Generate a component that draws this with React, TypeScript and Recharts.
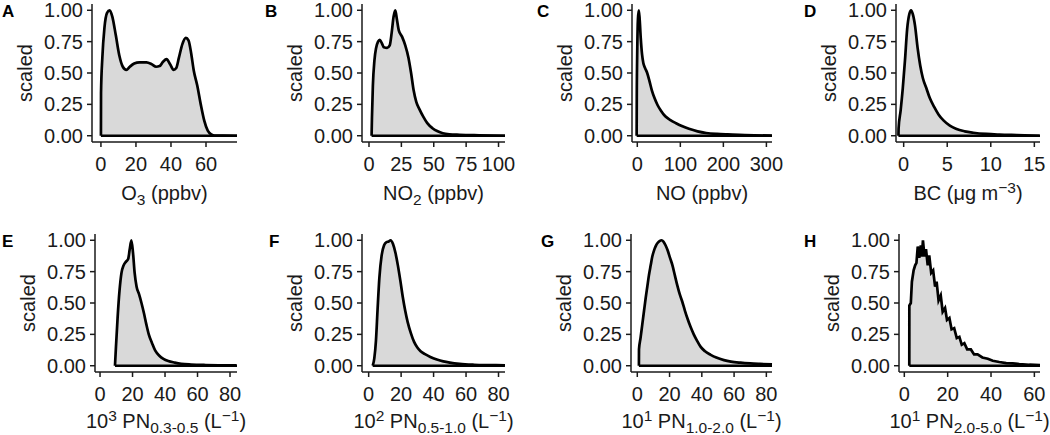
import { AreaChart, Area, XAxis, YAxis, ReferenceLine } from "recharts";

const FONT = '"Liberation Sans", Arial, Helvetica, sans-serif';
const INK = "#1a1a1a";
const FILL = "#d9d9d9";

// Scaled density curves, as [x, scaled] pairs
const o3: [number, number][] = [
  [0, 0], [0.05, 0.34], [0.8, 0.62], [2, 0.86], [3.5, 0.98], [5, 1.0], [6.5, 0.95],
  [8.5, 0.8], [10.5, 0.64], [12.5, 0.55], [14.5, 0.525], [16.5, 0.55], [19, 0.575],
  [22, 0.585], [26, 0.585], [29, 0.57], [31.5, 0.55], [33.5, 0.555], [35.5, 0.59],
  [37.5, 0.61], [39.5, 0.57], [41.5, 0.525], [43, 0.54], [44.5, 0.62], [46.5, 0.73],
  [48.5, 0.78], [50, 0.76], [51.5, 0.66], [53, 0.52], [55, 0.4], [57, 0.25],
  [59, 0.12], [61, 0.04], [63, 0.01], [65, 0.001], [77.7, 0],
];

const no2: [number, number][] = [
  [2, 0], [2.3, 0.15], [3, 0.4], [4.2, 0.6], [5.5, 0.7], [7, 0.75], [8.3, 0.765],
  [9.8, 0.74], [11.5, 0.705], [14, 0.7], [16, 0.72], [17.5, 0.82], [19, 0.95],
  [20.3, 1.0], [21.5, 0.93], [23, 0.84], [25.5, 0.79], [28, 0.72], [30.5, 0.62],
  [32.5, 0.5], [34.5, 0.36], [36.5, 0.27], [39, 0.21], [42, 0.15], [45, 0.1],
  [49, 0.06], [53, 0.035], [57, 0.02], [62, 0.012], [70, 0.008], [85, 0.004], [105, 0],
];

const no: [number, number][] = [
  [-1.5, 0], [-1.2, 0.3], [0, 0.7], [1.5, 0.93], [3.5, 1.0], [5.5, 0.93], [8, 0.78],
  [11, 0.65], [14, 0.58], [18, 0.54], [23, 0.5], [28, 0.44], [34, 0.36], [40, 0.3],
  [47, 0.245], [55, 0.2], [65, 0.155], [77, 0.125], [90, 0.1], [105, 0.075],
  [120, 0.055], [140, 0.035], [160, 0.022], [185, 0.014], [210, 0.01], [250, 0.006],
  [313, 0],
];

const bc: [number, number][] = [
  [-0.6, 0], [-0.58, 0.06], [-0.35, 0.2], [-0.1, 0.38], [0.15, 0.6], [0.4, 0.85],
  [0.65, 0.97], [0.85, 1.0], [1.05, 0.97], [1.3, 0.88], [1.6, 0.7], [1.9, 0.56],
  [2.2, 0.46], [2.6, 0.38], [3, 0.3], [3.5, 0.23], [4, 0.17], [4.6, 0.12],
  [5.3, 0.08], [6, 0.055], [7, 0.035], [8, 0.024], [9.5, 0.014], [11, 0.009],
  [13, 0.005], [15.6, 0],
];

const pn03: [number, number][] = [
  [9.2, 0], [9.8, 0.15], [10.8, 0.38], [12, 0.6], [13.2, 0.74], [14.5, 0.8],
  [16, 0.83], [17.3, 0.85], [18.3, 0.93], [19.3, 1.0], [20.3, 0.9], [21.3, 0.74],
  [22.5, 0.63], [24, 0.57], [25.5, 0.5], [27, 0.42], [28.5, 0.33], [30, 0.25],
  [32, 0.18], [34, 0.12], [36.5, 0.08], [39, 0.055], [42, 0.037], [46, 0.025],
  [50, 0.016], [56, 0.01], [65, 0.006], [84, 0.003],
];

const pn05: [number, number][] = [
  [2.5, 0], [3.5, 0.06], [4.5, 0.2], [5.5, 0.45], [6.6, 0.7], [8, 0.88], [9.5, 0.96],
  [11, 0.985], [12.3, 0.99], [13.5, 1.0], [15, 0.97], [16.5, 0.9], [18, 0.8],
  [19.5, 0.68], [21, 0.55], [22.5, 0.44], [24, 0.35], [26, 0.26], [28, 0.19],
  [30, 0.145], [32, 0.115], [35, 0.09], [38, 0.07], [42, 0.05], [46, 0.035],
  [50, 0.025], [56, 0.015], [65, 0.008], [75, 0.005], [84, 0.003],
];

const pn10: [number, number][] = [
  [1, 0], [1.05, 0.13], [2, 0.22], [3.1, 0.33], [4.2, 0.44], [5.2, 0.54], [6.2, 0.63],
  [7.2, 0.72], [8.3, 0.8], [9.3, 0.87], [10.4, 0.92], [11.5, 0.955], [12.7, 0.98],
  [14, 0.995], [15, 1.0], [16.2, 0.99], [17.5, 0.96], [18.8, 0.92], [20.3, 0.86],
  [21.8, 0.8], [23.3, 0.72], [24.8, 0.64], [26.3, 0.57], [27.9, 0.51], [29.5, 0.44],
  [31, 0.38], [33, 0.31], [35, 0.25], [37, 0.2], [39.3, 0.15], [42, 0.115],
  [45.5, 0.087], [49, 0.065], [53.7, 0.045], [58, 0.033], [64, 0.024], [70, 0.018],
  [76, 0.014], [83.5, 0.01],
];

const pn20: [number, number][] = [
  [2.3, 0], [2.32, 0.48], [3, 0.5], [3.5, 0.67], [4.3, 0.76], [5, 0.8], [5.6, 0.82],
  [6.2, 0.95], [6.9, 0.86], [7.6, 0.96], [8.1, 0.87], [8.6, 1.0], [9.3, 0.87],
  [10, 0.93], [10.8, 0.8], [11.5, 0.88], [12.4, 0.74], [13.3, 0.76], [14.2, 0.63],
  [14.9, 0.67], [15.8, 0.52], [16.8, 0.56], [17.7, 0.43], [18.8, 0.46], [19.7, 0.365],
  [20.8, 0.38], [21.8, 0.29], [23, 0.3], [24.2, 0.22], [25.4, 0.23], [26.5, 0.167],
  [27.7, 0.18], [29, 0.13], [30.7, 0.13], [32.2, 0.09], [33.8, 0.09], [36, 0.066],
  [38.5, 0.056], [40.8, 0.04], [43.8, 0.03], [47, 0.021], [50, 0.019], [53, 0.013],
  [57.7, 0.008], [62.6, 0.005],
];

const Y_TICKS = [0, 0.25, 0.5, 0.75, 1];
const O3_TICKS = [0, 20, 40, 60];
const NO2_TICKS = [0, 25, 50, 75, 100];
const NO_TICKS = [0, 100, 200, 300];
const BC_TICKS = [0, 5, 10, 15];
const PN_TICKS = [0, 20, 40, 60, 80];
const PN20_TICKS = [0, 20, 40, 60];

type Seg = { t: string; s?: "sub" | "sup" };

interface PanelDef {
  letter: string;
  data: [number, number][];
  ticks: number[];
  domain: [number, number];
  title: Seg[];
  row: 0 | 1;
  left: number;
  width: number;
  axisX: number;
  plotRight: number;
  letterX: number;
  curve: "monotone" | "linear";
}

const PANELS: PanelDef[] = [
  { letter: "A", data: o3, ticks: O3_TICKS, domain: [-5.1, 77.7], title: [{ t: "O" }, { t: "3", s: "sub" }, { t: " (ppbv)" }], row: 0, left: 0, width: 262, axisX: 92, plotRight: 237, letterX: 2, curve: "monotone" },
  { letter: "B", data: no2, ticks: NO2_TICKS, domain: [-5.4, 105], title: [{ t: "NO" }, { t: "2", s: "sub" }, { t: " (ppbv)" }], row: 0, left: 262, width: 262, axisX: 362, plotRight: 505, letterX: 265, curve: "monotone" },
  { letter: "C", data: no, ticks: NO_TICKS, domain: [-12.3, 313], title: [{ t: "NO (ppbv)" }], row: 0, left: 524, width: 262, axisX: 632, plotRight: 772, letterX: 537, curve: "monotone" },
  { letter: "D", data: bc, ticks: BC_TICKS, domain: [-0.88, 15.65], title: [{ t: "BC (\u03bcg m" }, { t: "\u22123", s: "sup" }, { t: ")" }], row: 0, left: 786, width: 264, axisX: 896, plotRight: 1040, letterX: 804, curve: "monotone" },
  { letter: "E", data: pn03, ticks: PN_TICKS, domain: [-3.1, 84.3], title: [{ t: "10" }, { t: "3", s: "sup" }, { t: " PN" }, { t: "0.3-0.5", s: "sub" }, { t: " (L" }, { t: "\u22121", s: "sup" }, { t: ")" }], row: 1, left: 0, width: 262, axisX: 95, plotRight: 237, letterX: 2, curve: "monotone" },
  { letter: "F", data: pn05, ticks: PN_TICKS, domain: [-4.1, 83.9], title: [{ t: "10" }, { t: "2", s: "sup" }, { t: " PN" }, { t: "0.5-1.0", s: "sub" }, { t: " (L" }, { t: "\u22121", s: "sup" }, { t: ")" }], row: 1, left: 262, width: 262, axisX: 362, plotRight: 505, letterX: 269, curve: "monotone" },
  { letter: "G", data: pn10, ticks: PN_TICKS, domain: [-3.9, 83.5], title: [{ t: "10" }, { t: "1", s: "sup" }, { t: " PN" }, { t: "1.0-2.0", s: "sub" }, { t: " (L" }, { t: "\u22121", s: "sup" }, { t: ")" }], row: 1, left: 524, width: 262, axisX: 631, plotRight: 772, letterX: 541, curve: "monotone" },
  { letter: "H", data: pn20, ticks: PN20_TICKS, domain: [-2.45, 62.6], title: [{ t: "10" }, { t: "1", s: "sup" }, { t: " PN" }, { t: "2.0-5.0", s: "sub" }, { t: " (L" }, { t: "\u22121", s: "sup" }, { t: ")" }], row: 1, left: 786, width: 264, axisX: 899, plotRight: 1040, letterX: 804, curve: "linear" },
];

// row geometry: chart box top/height and plot top/bottom (page coords)
const ROWS = [
  { top: 0, height: 215, plotTop: 4, plotBottom: 142, titleGap: 58, letterY: 17 },
  { top: 215, height: 220, plotTop: 234, plotBottom: 372, titleGap: 56, letterY: 247 },
];

function XTitle({ viewBox, parts, titleGap }: any) {
  const x = viewBox.x + viewBox.width / 2;
  const y = viewBox.y + titleGap;
  let shift = 0;
  return (
    <text x={x} y={y} textAnchor="middle" fill={INK} fontSize={20} fontFamily={FONT}>
      {parts.map((p: Seg, i: number) => {
        const target = p.s === "sub" ? 5 : p.s === "sup" ? -7 : 0;
        const dy = target - shift;
        shift = target;
        return (
          <tspan key={i} dy={dy} fontSize={p.s ? 15.5 : 20}>
            {p.t}
          </tspan>
        );
      })}
    </text>
  );
}

function YTitle({ viewBox }: any) {
  const x = viewBox.x + viewBox.width - 60;
  const y = viewBox.y + viewBox.height / 2;
  return (
    <text x={x} y={y} transform={`rotate(-90 ${x} ${y})`} textAnchor="middle" fill={INK} fontSize={20} fontFamily={FONT}>
      scaled
    </text>
  );
}

function DensityPanel({ p }: { p: PanelDef }) {
  const row = ROWS[p.row];
  const data = p.data.map(([x, y]) => ({ x, y }));
  const x0 = p.data[0][0];
  return (
    <div style={{ position: "absolute", left: p.left, top: row.top }}>
      <AreaChart
        width={p.width}
        height={row.height}
        data={data}
        margin={{ top: row.plotTop - row.top, right: p.left + p.width - p.plotRight, bottom: 0, left: 0 }}
      >
        <XAxis
          type="number"
          dataKey="x"
          domain={p.domain}
          ticks={p.ticks}
          interval={0}
          height={row.top + row.height - row.plotBottom}
          stroke={INK}
          axisLine={{ stroke: INK, strokeWidth: 1.5 }}
          tickLine={{ stroke: INK, strokeWidth: 1.5 }}
          tickSize={5}
          tickMargin={10}
          tick={{ fill: INK, fontSize: 20, fontFamily: FONT }}
          label={<XTitle parts={p.title} titleGap={row.titleGap} />}
        />
        <YAxis
          type="number"
          domain={[-0.05, 1.05]}
          ticks={Y_TICKS}
          interval={0}
          width={p.axisX - p.left}
          stroke={INK}
          axisLine={{ stroke: INK, strokeWidth: 1.5 }}
          tickLine={{ stroke: INK, strokeWidth: 1.5 }}
          tickSize={5}
          tickMargin={4}
          tickFormatter={(v: number) => v.toFixed(2)}
          tick={{ fill: INK, fontSize: 20, fontFamily: FONT }}
          label={<YTitle />}
        />
        <Area
          type={p.curve}
          dataKey="y"
          baseValue={0}
          fill={FILL}
          fillOpacity={1}
          stroke="#000"
          strokeWidth={2.7}
          isAnimationActive={false}
          dot={false}
          activeDot={false}
        />
        <ReferenceLine
          segment={[{ x: x0, y: 0 }, { x: p.domain[1], y: 0 }]}
          stroke="#000"
          strokeWidth={2.7}
          ifOverflow="visible"
        />
      </AreaChart>
    </div>
  );
}

export default function App() {
  return (
    <div style={{ position: "absolute", left: 0, top: 0, width: 1050, height: 435, background: "#fff", overflow: "hidden" }}>
      {PANELS.map((p) => (
        <DensityPanel key={p.letter} p={p} />
      ))}
      <svg width={1050} height={435} style={{ position: "absolute", left: 0, top: 0, pointerEvents: "none" }}>
        {PANELS.map((p) => (
          <text
            key={p.letter}
            x={p.letterX}
            y={ROWS[p.row].letterY}
            fontSize={17}
            fontWeight="bold"
            fontFamily={FONT}
            fill="#000"
          >
            {p.letter}
          </text>
        ))}
      </svg>
    </div>
  );
}
